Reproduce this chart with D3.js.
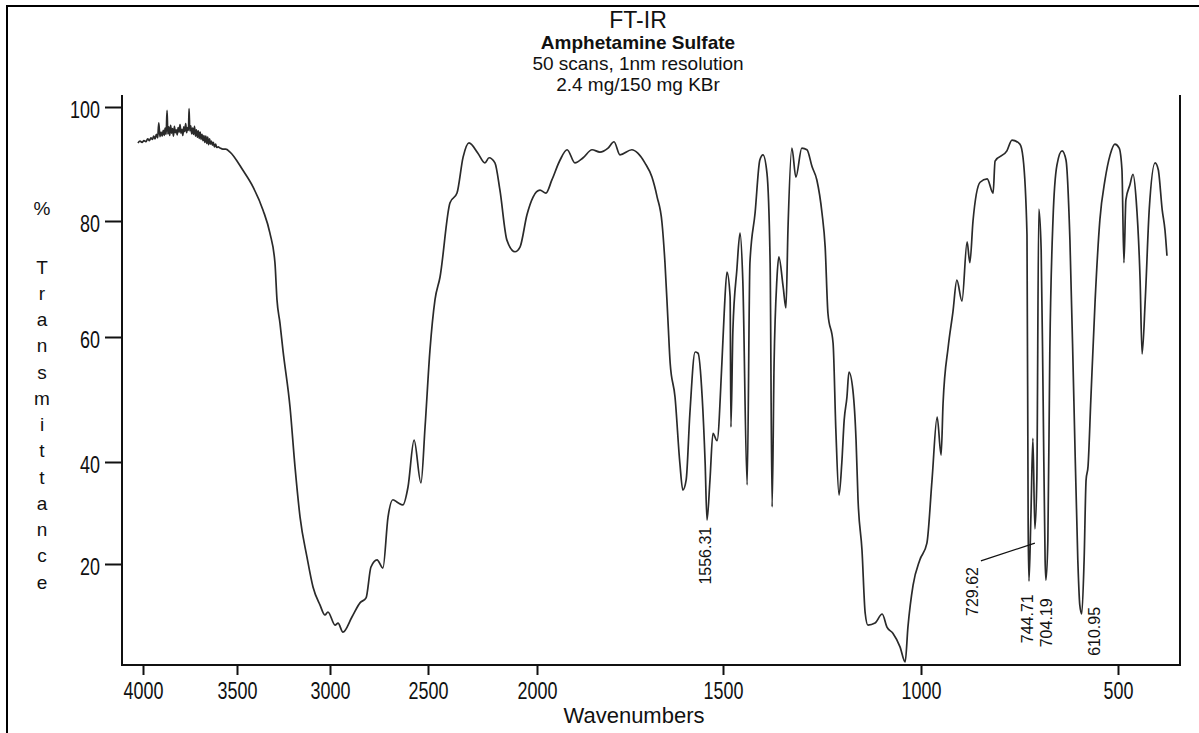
<!DOCTYPE html>
<html>
<head>
<meta charset="utf-8">
<script src="https://cdn.jsdelivr.net/npm/d3@7"></script>
<style>
  body { margin: 0; background: #fff; }
</style>
</head>
<body>
<div class="drawBoard"></div>
<script>
// spectrum: wavenumber (cm-1) and % transmittance
const wavenumbers = [
  4027, 4016, 4005, 3995, 3985, 3975, 3966, 3958, 3950, 3943, 3936, 3929, 3922, 3916, 3910, 3904,
  3898, 3892, 3887, 3882, 3877, 3872, 3868, 3863, 3858, 3853, 3848, 3843, 3838, 3833, 3828, 3823,
  3818, 3813, 3808, 3803, 3798, 3793, 3788, 3783, 3778, 3773, 3768, 3763, 3758, 3755, 3751, 3746,
  3741, 3736, 3731, 3726, 3721, 3716, 3711, 3706, 3701, 3696, 3691, 3686, 3681, 3676, 3671, 3666,
  3661, 3656, 3651, 3646, 3641, 3636, 3631, 3626, 3620, 3614, 3608, 3600, 3590, 3575, 3560, 3537,
  3468, 3414, 3360, 3323, 3296, 3285, 3269, 3253, 3215, 3188, 3161, 3124, 3091, 3054, 3027, 3011,
  2974, 2959, 2934, 2888, 2847, 2816, 2791, 2760, 2730, 2704, 2679, 2653, 2628, 2602, 2571, 2536,
  2515, 2491, 2468, 2445, 2399, 2367, 2339, 2312, 2271, 2239, 2220, 2193, 2170, 2138, 2101, 2078,
  2046, 2018, 1992, 1976, 1960, 1938, 1919, 1898, 1876, 1852, 1831, 1809, 1793, 1777, 1745, 1729,
  1710, 1691, 1677, 1664, 1656, 1648, 1642, 1629, 1616, 1608, 1599, 1589, 1575, 1567, 1556, 1548,
  1543, 1535, 1527, 1516, 1503, 1497, 1490, 1482, 1480, 1475, 1465, 1457, 1450, 1439, 1432, 1419,
  1407, 1399, 1389, 1381, 1376, 1371, 1364, 1359, 1348, 1341, 1336, 1326, 1316, 1301, 1288, 1275,
  1263, 1250, 1242, 1235, 1222, 1215, 1207, 1200, 1194, 1187, 1182, 1172, 1164, 1159, 1149, 1141,
  1134, 1116, 1098, 1086, 1071, 1053, 1040, 1033, 1020, 1003, 985, 972, 959, 949, 944, 931,
  919, 909, 896, 883, 876, 868, 850, 832, 817, 812, 782, 769, 749, 741, 731, 728,
  726, 721, 716, 711, 706, 701, 695, 690, 685, 683, 678, 673, 665, 655, 642, 632,
  622, 612, 602, 597, 592, 586, 581, 576, 569, 558, 546, 533, 520, 508, 497, 490,
  485, 480, 470, 462, 454, 444, 439, 431, 421, 406, 398, 388, 381, 376
];
const transmittance = [
  93.7, 94.0, 93.8, 94.1, 93.9, 94.4, 94.1, 94.6, 94.3, 94.9, 94.4, 95.2, 94.6, 97.2, 94.8, 95.6,
  94.9, 95.9, 95.0, 96.3, 95.2, 99.4, 95.3, 96.5, 95.0, 96.8, 95.4, 96.2, 94.9, 96.6, 95.5, 96.0,
  95.1, 96.4, 95.6, 96.9, 95.4, 96.1, 95.0, 96.5, 95.7, 97.1, 95.5, 96.4, 95.9, 99.7, 95.8, 96.7,
  95.3, 96.3, 95.2, 96.6, 94.9, 96.0, 94.7, 95.8, 94.5, 95.6, 94.3, 95.2, 94.1, 95.0, 93.8, 94.9,
  93.6, 94.7, 93.4, 94.4, 93.5, 94.0, 93.3, 93.8, 93.0, 93.5, 92.9, 93.0, 92.8, 92.6, 92.6, 92.1,
  88.9, 86.0, 81.9, 77.9, 72.8, 66.4, 62.4, 57.9, 48.8, 39.0, 29.2, 21.4, 15.4, 11.9, 9.9, 10.5,
  7.9, 8.3, 6.5, 9.5, 12.3, 13.3, 19.4, 20.8, 19.2, 29.2, 32.6, 32.0, 31.6, 35.1, 43.5, 35.9,
  45.6, 57.9, 66.4, 70.3, 83.2, 84.9, 91.2, 93.7, 91.9, 90.2, 91.1, 90.2, 85.4, 76.7, 74.7, 75.5,
  81.1, 84.2, 85.4, 84.9, 87.2, 90.7, 92.5, 90.2, 91.1, 92.5, 92.1, 92.8, 93.9, 91.6, 92.5, 91.9,
  90.2, 87.7, 84.2, 79.7, 72.8, 62.9, 55.8, 50.4, 39.8, 34.5, 36.5, 47.8, 57.6, 57.4, 50.4, 39.8,
  28.6, 36.5, 44.6, 43.4, 55.8, 64.1, 71.2, 66.9, 45.6, 61.2, 71.6, 77.9, 69.8, 35.5, 72.8, 81.4,
  90.7, 91.6, 88.4, 72.8, 31.2, 55.8, 69.8, 73.8, 68.6, 65.0, 78.4, 92.8, 87.7, 92.8, 92.5, 89.5,
  87.2, 81.4, 75.5, 64.1, 59.0, 45.1, 33.5, 39.8, 46.7, 50.4, 54.4, 51.5, 43.5, 32.6, 22.7, 10.3,
  7.9, 8.3, 10.1, 7.5, 6.3, 3.6, 0.6, 7.5, 15.8, 20.8, 24.1, 36.5, 47.2, 41.1, 49.4, 58.4,
  64.3, 69.8, 66.2, 76.4, 72.8, 80.0, 86.8, 87.4, 84.9, 90.5, 92.3, 94.2, 93.5, 91.1, 77.6, 27.6,
  16.6, 29.6, 43.8, 26.9, 36.5, 82.1, 75.0, 49.9, 20.8, 16.8, 24.7, 57.9, 80.2, 89.8, 92.3, 90.7,
  76.7, 49.9, 20.8, 11.9, 10.1, 20.8, 36.5, 39.2, 49.9, 66.4, 80.2, 87.2, 91.6, 93.5, 92.8, 89.0,
  72.8, 83.7, 86.3, 88.2, 83.7, 69.8, 57.3, 66.4, 81.9, 90.2, 89.0, 81.9, 78.4, 74.0
];

const xTicks = [4000, 3500, 3000, 2500, 2000, 1500, 1000, 500];
const yTicks = [20, 40, 60, 80, 100];

const titleLines = ['FT-IR', 'Amphetamine Sulfate', '50 scans, 1nm resolution', '2.4 mg/150 mg KBr'];

// peak labels, with where each label sits on the scan (wavenumber, %T of its top)
const peakLabels = ['1556.31', '744.71', '704.19', '610.95', '729.62'];
const peakLabelWn = [1546, 728, 680, 558, 868];
const peakLabelT = [27.3, 14.0, 13.2, 11.5, 19.4];
// leader line from the 729.62 label to its band
const leaderWn = [848, 711];
const leaderT = [20.6, 24.1];

const drawingBoard = d3.select('.drawBoard');

const svg = drawingBoard.append('svg')
  .attr('width', 1199)
  .attr('height', 733)
  .style('display', 'block');

const font = '"Liberation Sans", Arial, sans-serif';

// the scan's axes are not evenly spaced, so the scales are piecewise
const x = d3.scaleLinear()
  .domain([4112, 4000, 3500, 3000, 2500, 2000, 1500, 1000, 500, 343])
  .range([122, 143, 237, 330, 428, 537, 723, 921, 1118, 1180]);

const y = d3.scaleLinear()
  .domain([0, 20, 40, 60, 80, 100])
  .range([665, 564, 462, 337, 221, 107]);

const plotLeft = 122, plotRight = 1180, plotBottom = 665, plotTop = 95;

// outer frame
svg.append('rect')
  .attr('x', 7)
  .attr('y', 6)
  .attr('width', 1300)
  .attr('height', 800)
  .attr('fill', 'none')
  .attr('stroke', '#000')
  .attr('stroke-width', 2);

// plot frame: left, bottom and right, no top
svg.append('path')
  .attr('d', `M${plotLeft},${plotTop}V${plotBottom}H${plotRight}V${plotTop}`)
  .attr('fill', 'none')
  .attr('stroke', '#111')
  .attr('stroke-width', 2);

// axes - tick numbers are squeezed sideways like the scan's narrow font
const squeeze = 0.78;

const xAxis = svg.append('g')
  .attr('transform', `translate(0,${plotBottom})`)
  .call(d3.axisBottom(x).tickValues(xTicks).tickSize(10).tickPadding(8).tickFormat(d3.format('d')));

const yAxis = svg.append('g')
  .attr('transform', `translate(${plotLeft},0)`)
  .call(d3.axisLeft(y).tickValues(yTicks).tickSize(17).tickPadding(5).tickFormat(d3.format('d')));

[xAxis, yAxis].forEach(a => {
  a.select('.domain').remove();
  a.selectAll('.tick line').attr('stroke', '#111').attr('stroke-width', 2);
  a.selectAll('.tick text')
    .attr('fill', '#111')
    .attr('transform', `scale(${squeeze},1)`)
    .style('font-family', font)
    .style('font-size', '23px');
});
yAxis.selectAll('.tick text')
  .attr('x', -22 / squeeze)
  .attr('dy', '0.45em');

// spectrum
const points = wavenumbers.map((w, i) => [w, transmittance[i]]);
const line = d3.line()
  .x(d => x(d[0]))
  .y(d => y(d[1]))
  .curve(d3.curveMonotoneX);

svg.append('path')
  .datum(points)
  .attr('d', line)
  .attr('fill', 'none')
  .attr('stroke', '#2a2a2a')
  .attr('stroke-width', 1.7)
  .attr('stroke-linejoin', 'round');

// peak labels, written upwards
svg.selectAll('.peak')
  .data(peakLabels)
  .enter()
  .append('text')
  .attr('class', 'peak')
  .text(d => d)
  .attr('text-anchor', 'end')
  .attr('transform', (d, i) => `translate(${x(peakLabelWn[i]) + 5},${y(peakLabelT[i])}) rotate(-90)`)
  .style('font-family', font)
  .style('font-size', '16px')
  .attr('fill', '#111');

svg.append('line')
  .attr('x1', x(leaderWn[0]))
  .attr('y1', y(leaderT[0]))
  .attr('x2', x(leaderWn[1]))
  .attr('y2', y(leaderT[1]))
  .attr('stroke', '#111')
  .attr('stroke-width', 1.3);

// titles
const titleSizes = [23, 19, 19, 19];
const titleY = [28, 49, 70, 91];
svg.selectAll('.title')
  .data(titleLines)
  .enter()
  .append('text')
  .attr('class', 'title')
  .text(d => d)
  .attr('x', 638)
  .attr('y', (d, i) => titleY[i])
  .attr('text-anchor', 'middle')
  .style('font-family', font)
  .style('font-size', (d, i) => titleSizes[i] + 'px')
  .style('font-weight', (d, i) => i === 1 ? 'bold' : 'normal')
  .attr('fill', '#111');

// x axis title
svg.append('text')
  .text('Wavenumbers')
  .attr('x', 634)
  .attr('y', 723)
  .attr('text-anchor', 'middle')
  .style('font-family', font)
  .style('font-size', '22px')
  .attr('fill', '#111');

// y axis title, one letter per line
const yLetters = ['%'].concat('Transmittance'.split(''));
const yLetterPos = [208].concat(d3.range(13).map(i => 267 + i * 26.25));
svg.selectAll('.ylab')
  .data(yLetters)
  .enter()
  .append('text')
  .attr('class', 'ylab')
  .text(d => d)
  .attr('x', 42)
  .attr('y', (d, i) => yLetterPos[i])
  .attr('dy', '0.35em')
  .attr('text-anchor', 'middle')
  .style('font-family', font)
  .style('font-size', '19px')
  .attr('fill', '#111');
</script>
</body>
</html>
